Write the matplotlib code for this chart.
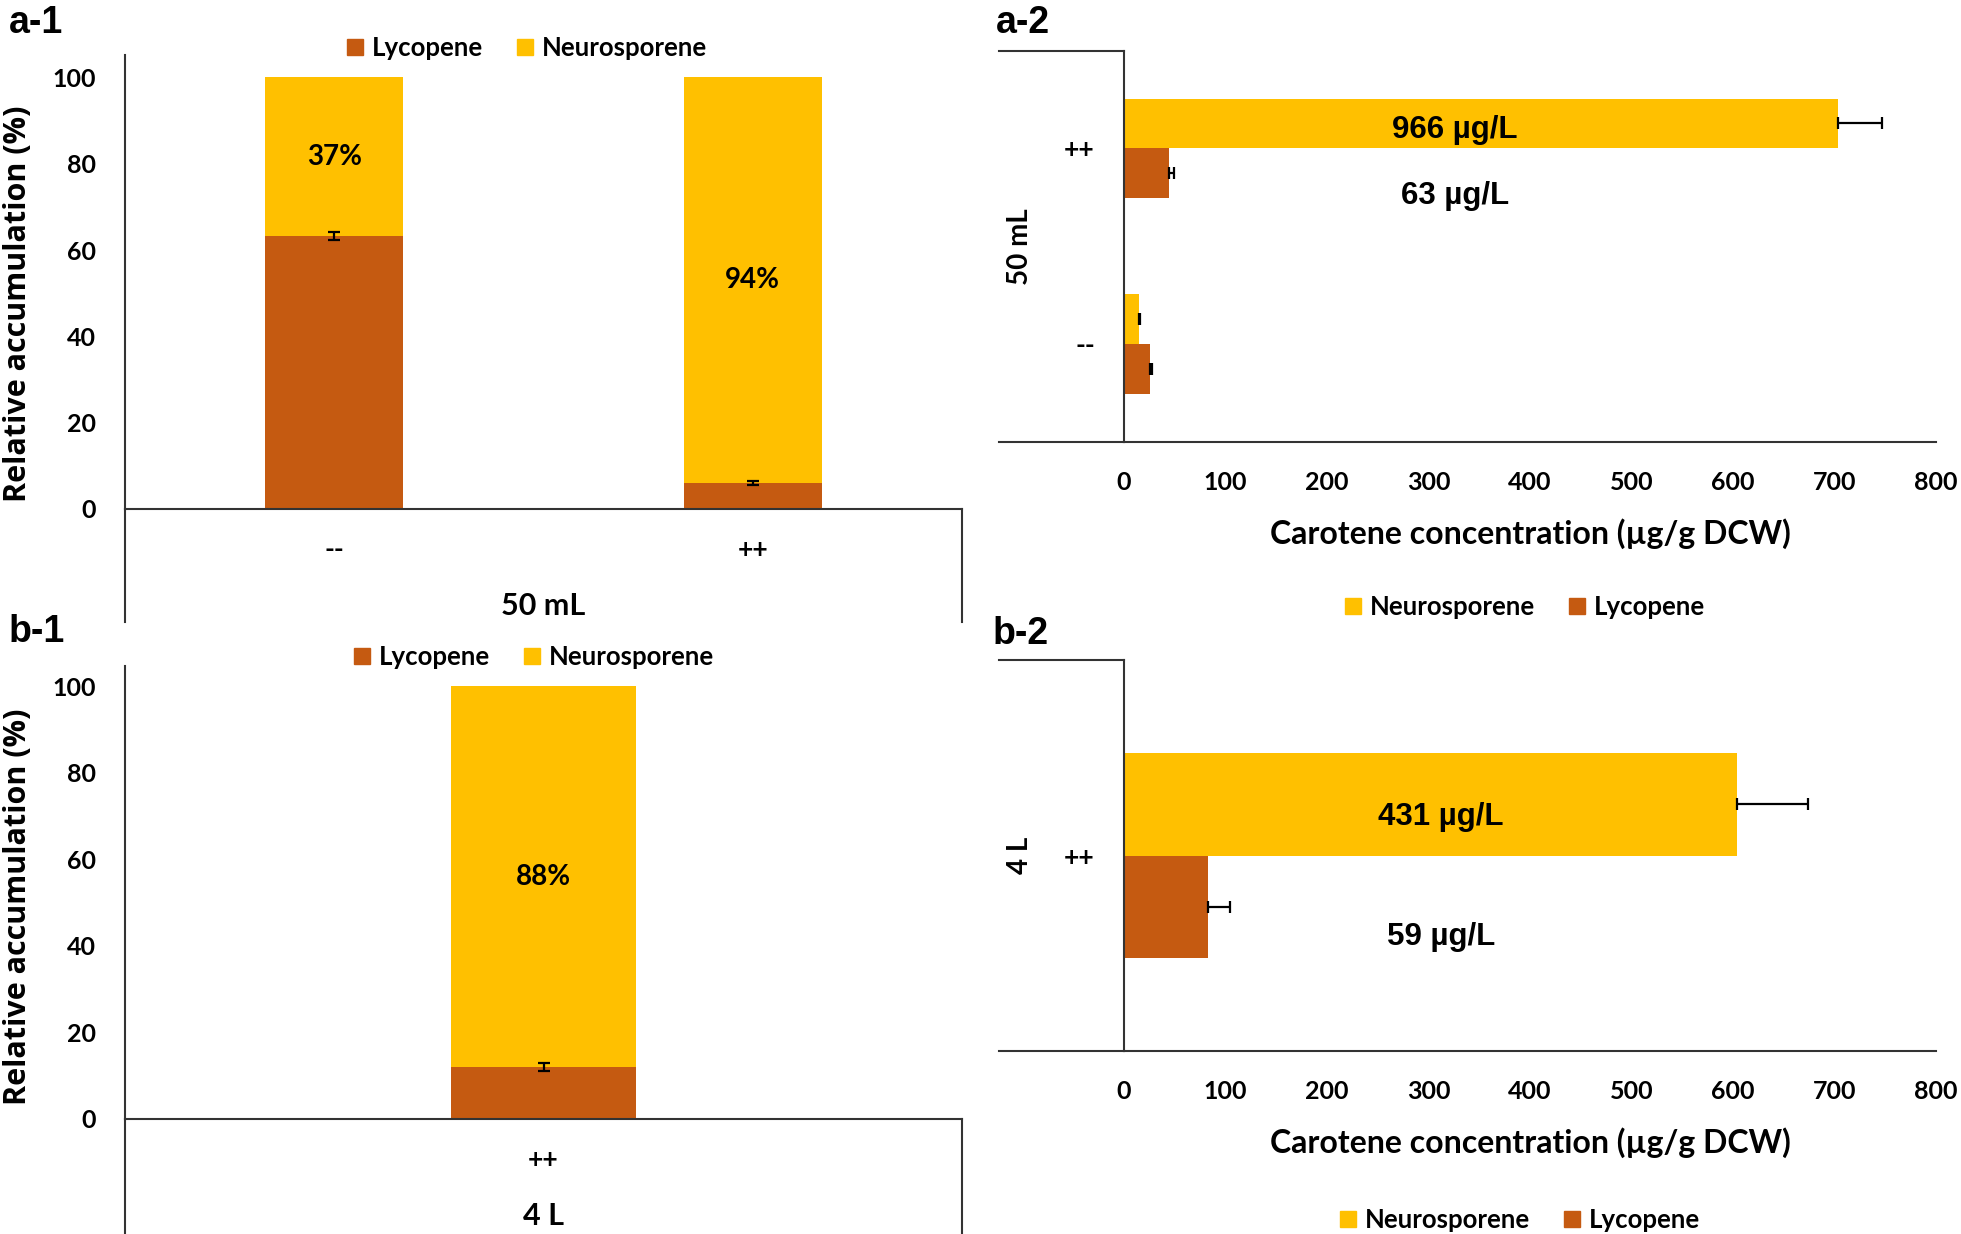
import matplotlib
matplotlib.use("Agg")
import matplotlib.pyplot as plt
from matplotlib.patches import Patch
import numpy as np

W, H = 1961, 1234
DPI = 100

LYC = "#C55A11"
NEU = "#FFC000"
LINE = "#333333"

# ---------------- data ----------------
# a-1: relative accumulation (%), 50 mL
cats_50 = ["--", "++"]
lyc_pct_50 = [63.3, 6.0]
neu_pct_50 = [36.7, 94.0]
lyc_pct_err_50 = [0.9, 0.4]
neu_pct_text_50 = ["37%", "94%"]

# b-1: relative accumulation (%), 4 L
cats_4L = ["++"]
lyc_pct_4L = [12.0]
neu_pct_4L = [88.0]
lyc_pct_err_4L = [0.9]
neu_pct_text_4L = ["88%"]

# a-2: carotene concentration (ug/g DCW), 50 mL
neu_conc_50 = [15, 703]
neu_conc_err_50 = [1, 44]
lyc_conc_50 = [25.5, 44.5]
lyc_conc_err_50 = [2, 5]
titer_neu_50 = "966 µg/L"
titer_lyc_50 = "63 µg/L"

# b-2: carotene concentration (ug/g DCW), 4 L
neu_conc_4L = [604]
neu_conc_err_4L = [70]
lyc_conc_4L = [83]
lyc_conc_err_4L = [21]
titer_neu_4L = "431 µg/L"
titer_lyc_4L = "59 µg/L"

pct_ticks = [0, 20, 40, 60, 80, 100]
conc_ticks = [0, 100, 200, 300, 400, 500, 600, 700, 800]

# ---------------- style ----------------
plt.rcParams['font.family'] = ['Lato', 'DejaVu Sans']
plt.rcParams['font.weight'] = 'bold'
plt.rcParams['axes.labelweight'] = 'bold'
FS_TICK = 18
FS_LEG = 18.5
FS_LAB = 22
FS_PANEL = 27
FS_TITER = 22.5
ARIAL = ['Liberation Sans', 'DejaVu Sans']
OPEN = ['Open Sans', 'DejaVu Sans']

fig = plt.figure(figsize=(W / DPI, H / DPI), dpi=DPI)


def add_axes_px(x0, y0, x1, y1):
    return fig.add_axes([x0 / W, 1 - y1 / H, (x1 - x0) / W, (y1 - y0) / H])


def fig_xy(x, y):
    return x / W, 1 - y / H


def legend_px(handles, cx, cy):
    fig.legend(handles=handles, loc='center', bbox_to_anchor=fig_xy(cx, cy),
               ncol=2, frameon=False, fontsize=FS_LEG, handlelength=0.62,
               handleheight=0.62, handletextpad=0.35, columnspacing=1.3,
               borderaxespad=0, borderpad=0)


def pct_panel(x0, ytop, y0px, y100px, x1, box_bottom, cats, lyc, neu, err,
              texts, group, width, cat_y, group_y):
    ax = add_axes_px(x0, ytop, x1, y0px)
    ymax = 100 * (y0px - ytop) / (y0px - y100px)
    ax.set_ylim(0, ymax)
    n = len(cats)
    pos = np.arange(n)
    ax.set_xlim(-0.5, n - 0.5)
    ax.bar(pos, lyc, width, color=LYC, zorder=2)
    ax.bar(pos, neu, width, bottom=lyc, color=NEU, zorder=2)
    ax.errorbar(pos, lyc, yerr=err, fmt='none', ecolor='black',
                elinewidth=1.6, capsize=4, capthick=1.6, zorder=4)
    for p, l, nv, t in zip(pos, lyc, neu, texts):
        ax.text(p, l + nv / 2, t, ha='center', va='center', fontsize=20,
                fontweight='bold', zorder=5)
    ax.set_yticks(pct_ticks)
    ax.set_yticklabels([str(t) for t in pct_ticks], fontsize=FS_TICK)
    ax.set_xticks(pos)
    ax.set_xticklabels(cats, fontsize=FS_TICK + 1)
    ax.tick_params(axis='both', length=0)
    ax.tick_params(axis='y', pad=21)
    ax.tick_params(axis='x', pad=(cat_y - y0px - 11) * 0.72)
    for s in ['top', 'right']:
        ax.spines[s].set_visible(False)
    for s in ['left', 'bottom']:
        ax.spines[s].set_color(LINE)
        ax.spines[s].set_linewidth(1.5)
    fb = (box_bottom - y0px) / (y0px - ytop)
    ax.plot([0, 0], [0, -fb], transform=ax.transAxes, clip_on=False,
            color=LINE, lw=1.5)
    ax.plot([1, 1], [0, -fb], transform=ax.transAxes, clip_on=False,
            color=LINE, lw=1.5)
    gy = -(group_y - y0px) / (y0px - ytop)
    ax.text(0.5, gy, group, transform=ax.transAxes, ha='center', va='center',
            fontsize=FS_LAB, fontweight='bold')
    return ax


def conc_panel(x0, ytop, x1, ybot, xext, cats, neu, neu_err, lyc, lyc_err,
               t_neu, t_lyc, t_x, t_neu_dy, t_lyc_dy, group, h=0.26):
    ax = add_axes_px(x0, ytop, x1, ybot)
    n = len(cats)
    pos = np.arange(n) + 0.5
    ax.set_ylim(0, n)
    ax.set_xlim(0, 800)
    ax.barh(pos + h / 2, neu, h, color=NEU, zorder=2)
    ax.barh(pos - h / 2, lyc, h, color=LYC, zorder=2)
    ax.errorbar(neu, pos + h / 2, xerr=[np.zeros(n), neu_err], fmt='none',
                ecolor='black', elinewidth=1.6, capsize=4, capthick=1.6,
                zorder=4)
    ax.errorbar(lyc, pos - h / 2, xerr=[np.zeros(n), lyc_err], fmt='none',
                ecolor='black', elinewidth=1.6, capsize=4, capthick=1.6,
                zorder=4)
    top = pos[-1]
    ax.text(t_x, top + t_neu_dy, t_neu, ha='center', va='center',
            fontsize=FS_TITER, fontweight='bold', family=ARIAL, zorder=5)
    ax.text(t_x, top + t_lyc_dy, t_lyc, ha='center', va='center',
            fontsize=FS_TITER, fontweight='bold', family=ARIAL, zorder=5)
    ax.set_xticks(conc_ticks)
    ax.set_xticklabels([str(t) for t in conc_ticks], fontsize=FS_TICK)
    ax.set_yticks(pos)
    ax.set_yticklabels(cats, fontsize=FS_TICK + 1)
    ax.tick_params(axis='both', length=0)
    ax.tick_params(axis='x', pad=21)
    ax.tick_params(axis='y', pad=21)
    ax.set_xlabel("Carotene concentration (µg/g DCW)", fontsize=23,
                  fontweight='bold', labelpad=17)
    for s in ['top', 'right']:
        ax.spines[s].set_visible(False)
    for s in ['left', 'bottom']:
        ax.spines[s].set_color(LINE)
        ax.spines[s].set_linewidth(1.5)
    ax.plot([xext, 0], [1, 1], transform=ax.transAxes, clip_on=False,
            color=LINE, lw=1.5)
    ax.plot([xext, 0], [0, 0], transform=ax.transAxes, clip_on=False,
            color=LINE, lw=1.5)
    gx = (1020 - x0) / (x1 - x0)
    ax.text(gx, 0.5, group, transform=ax.transAxes, rotation=90,
            ha='center', va='center', fontsize=20, fontweight='bold')
    return ax


# a-1
pct_panel(125, 55, 509, 77.5, 962, 622, cats_50, lyc_pct_50, neu_pct_50,
          lyc_pct_err_50, neu_pct_text_50, "50 mL", 0.33, 549, 606)
# b-1
pct_panel(125, 666, 1119, 686, 962, 1234, cats_4L, lyc_pct_4L, neu_pct_4L,
          lyc_pct_err_4L, neu_pct_text_4L, "4 L", 0.222, 1159, 1216)

# a-2
xext = (999 - 1124) / (1936 - 1124)
conc_panel(1124, 50.6, 1936, 442, xext, cats_50, neu_conc_50,
           neu_conc_err_50, lyc_conc_50, lyc_conc_err_50, titer_neu_50,
           titer_lyc_50, 326, 0.094, -0.245, "50 mL", h=0.255)
# b-2
conc_panel(1124, 660, 1936, 1051, xext, cats_4L, neu_conc_4L,
           neu_conc_err_4L, lyc_conc_4L, lyc_conc_err_4L, titer_neu_4L,
           titer_lyc_4L, 312, 0.098, -0.208, "4 L", h=0.263)

# y labels for percent panels
for cy in (304, 907):
    fig.text(*fig_xy(18, cy), "Relative accumulation (%)", rotation=90,
             ha='center', va='center', fontsize=22, fontweight='bold',
             family=OPEN)

# legends
h_ln = [Patch(color=LYC, label="Lycopene"), Patch(color=NEU, label="Neurosporene")]
h_nl = [Patch(color=NEU, label="Neurosporene"), Patch(color=LYC, label="Lycopene")]
legend_px(h_ln, 527, 48)
legend_px(h_ln, 534, 657)
legend_px(h_nl, 1525, 607)
legend_px(h_nl, 1520, 1220)

# panel labels
for (x, y, t) in [(9, 5, "a-1"), (996, 5, "a-2"), (9, 614, "b-1"), (993, 616, "b-2")]:
    fig.text(*fig_xy(x, y), t, ha='left', va='top', fontsize=FS_PANEL,
             fontweight='bold', family=ARIAL)

fig.savefig("out.png", dpi=DPI, facecolor='white')
